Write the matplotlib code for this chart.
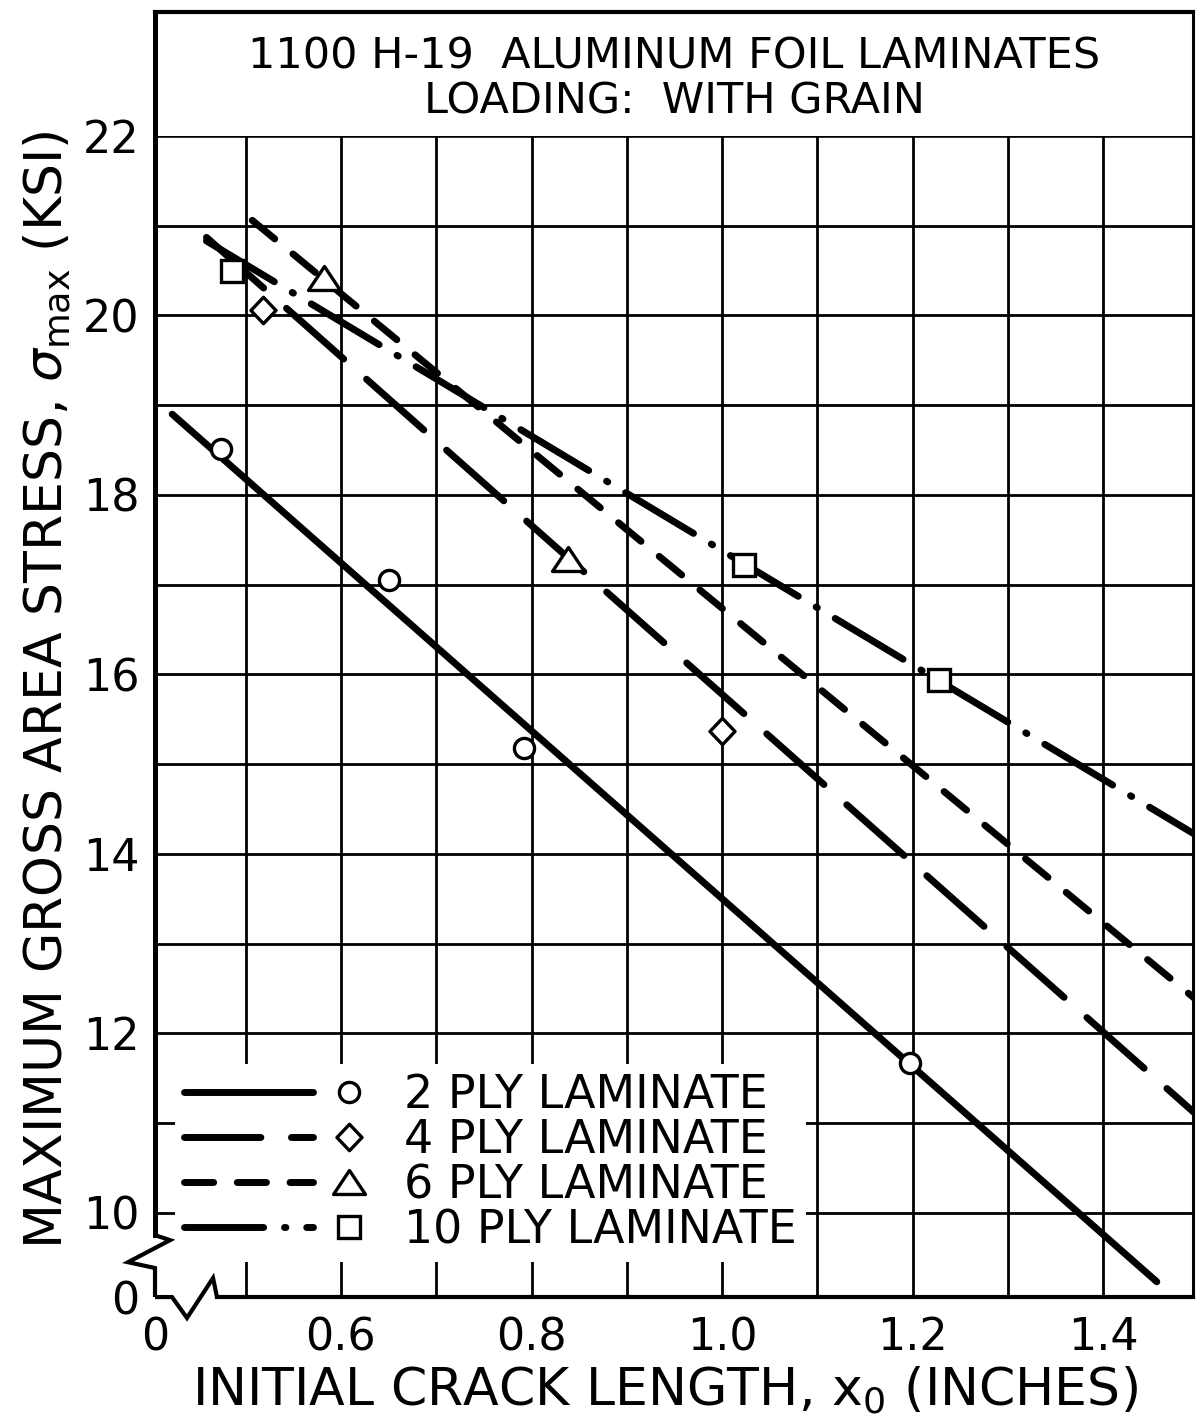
import matplotlib
matplotlib.use('Agg')
import numpy as np
import matplotlib.pyplot as plt
from matplotlib.lines import Line2D
from matplotlib.path import Path
from matplotlib.legend_handler import HandlerBase

# test points (x0 in inches, sigma_max in ksi)
x_2ply = [0.474, 0.651, 0.792, 1.197]
y_2ply = [18.51, 17.05, 15.18, 11.67]
x_4ply = [0.518, 1.000]
y_4ply = [20.06, 15.37]
x_6ply = [0.582, 0.838]
y_6ply = [20.42, 17.29]
x_10ply = [0.486, 1.023, 1.228]
y_10ply = [20.50, 17.22, 15.94]

# faired straight lines, end points
fit_2ply_x = [0.423, 1.456]
fit_2ply_y = [18.90, 9.23]
fit_4ply_x = [0.459, 1.50]
fit_4ply_y = [20.87, 11.07]
fit_6ply_x = [0.507, 1.50]
fit_6ply_y = [21.06, 12.35]
fit_10ply_x = [0.459, 1.50]
fit_10ply_y = [20.83, 14.19]

labels = ['2 PLY LAMINATE', '4 PLY LAMINATE', '6 PLY LAMINATE', '10 PLY LAMINATE']
x_ticks = [0.6, 0.8, 1.0, 1.2, 1.4]
x_ticklabels = ['0.6', '0.8', '1.0', '1.2', '1.4']
y_ticks = [10, 12, 14, 16, 18, 20, 22]
y_ticklabels = ['10', '12', '14', '16', '18', '20', '22']

title_1 = '1100 H-19  ALUMINUM FOIL LAMINATES'
title_2 = 'LOADING:  WITH GRAIN'
x_label = r'INITIAL CRACK LENGTH, $\mathregular{x_0}$ (INCHES)'
y_label = r'MAXIMUM GROSS AREA STRESS, $\sigma_{\rm max}$ (KSI)'

# broken axes: both edges are labelled zero
X_LO, X_HI = 0.405, 1.494
Y_LO, Y_HI = 9.06, 22.0
X_BRK, Y_BRK = 0.470, 9.75

plt.rcParams.update({
    'font.family': 'DejaVu Sans',
    'mathtext.fontset': 'dejavusans',
    'lines.scale_dashes': False,
    'lines.solid_capstyle': 'round',
    'lines.dash_capstyle': 'round',
})

tri = Path([(-1, -0.75), (1, -0.75), (0, 0.75), (-1, -0.75)], closed=True)
diamond = Path([(0, 1), (0.95, 0), (0, -1), (-0.95, 0), (0, 1)], closed=True)

styles = [
    (x_2ply, y_2ply, fit_2ply_x, fit_2ply_y, 'o', 14.5, '-'),
    (x_4ply, y_4ply, fit_4ply_x, fit_4ply_y, diamond, 19, (0, (55, 22))),
    (x_6ply, y_6ply, fit_6ply_x, fit_6ply_y, tri, 23, (0, (21, 17))),
    (x_10ply, y_10ply, fit_10ply_x, fit_10ply_y, 's', 15.5, (0, (57, 15, 1, 15))),
]


class LineThenMarker(HandlerBase):
    """legend key: line sample followed by the marker on its right"""
    def create_artists(self, legend, orig_handle, xdescent, ydescent,
                       width, height, fontsize, trans):
        line, mark = orig_handle
        y = height / 2 - ydescent
        x0 = -xdescent
        seg = Line2D([x0, x0 + 0.74 * width], [y, y])
        seg.update_from(line)
        pt = Line2D([x0 + 0.95 * width], [y])
        pt.update_from(mark)
        seg.set_transform(trans)
        pt.set_transform(trans)
        return [seg, pt]


fig = plt.figure(figsize=(11.97, 14.18), dpi=100)
ax = fig.add_axes([0.1295, 0.0853, 0.8672, 0.8188])
tax = fig.add_axes([0.1295, 0.9041, 0.8672, 0.0874])

handles = []
for xs, ys, fx, fy, mk, ms, ls in styles:
    ln, = ax.plot(fx, fy, color='black', lw=5, ls=ls, zorder=3)
    pt, = ax.plot(xs, ys, ls='none', marker=mk, ms=ms, mfc='white',
                  mec='black', mew=2.4, zorder=4)
    handles.append((ln, pt))

ax.set_xlim(X_LO, X_HI)
ax.set_ylim(Y_LO, Y_HI)

# labelled ticks (major) and the ruled grid (minor)
ax.set_xticks([X_LO] + x_ticks)
ax.set_xticklabels(['0'] + x_ticklabels)
ax.set_yticks([Y_LO] + y_ticks)
ax.set_yticklabels(['0'] + y_ticklabels)
ax.set_xticks(np.arange(0.5, 1.45, 0.1), minor=True)
ax.set_yticks(np.arange(10, 22, 1), minor=True)
ax.xaxis.remove_overlapping_locs = False
ax.yaxis.remove_overlapping_locs = False
ax.grid(which='minor', color='black', lw=2.0)
ax.grid(which='major', visible=False)
ax.set_axisbelow(True)
ax.tick_params(which='both', length=0)
ax.tick_params(axis='y', which='major', pad=11, labelsize=32)
ax.tick_params(axis='x', which='major', pad=14, labelsize=32)

ax.spines['left'].set_linewidth(3.6)
ax.spines['bottom'].set_linewidth(3.0)
ax.spines['top'].set_linewidth(2.6)
ax.spines['right'].set_linewidth(2.2)
ax.spines['left'].set_bounds(Y_BRK, Y_HI)
ax.spines['bottom'].set_bounds(X_BRK, X_HI)

# break symbols on both axes
ax.plot([0, 0.0145, -0.026, 0, 0], [0.0533, 0.049, 0.030, 0.025, 0],
        transform=ax.transAxes, clip_on=False, color='black', lw=3,
        solid_capstyle='butt', solid_joinstyle='miter')
ax.plot([0, 0.0164, 0.0308, 0.0559, 0.0597], [0, 0, -0.018, 0.0164, 0],
        transform=ax.transAxes, clip_on=False, color='black', lw=3,
        solid_capstyle='butt', solid_joinstyle='miter')

ax.set_xlabel(x_label, fontsize=37.5, va='baseline')
ax.xaxis.set_label_coords(0.491, -0.093)
ax.set_ylabel(y_label, fontsize=37.5, va='baseline')
ax.yaxis.set_label_coords(-0.0896, 0.523)

leg = ax.legend(handles=handles, labels=labels,
                handler_map={tuple: LineThenMarker()},
                loc='lower left', bbox_to_anchor=(0.019, 0.030),
                fontsize=33, handlelength=3.8, handletextpad=1.0,
                labelspacing=0.0, borderpad=0.2, borderaxespad=0,
                frameon=True, fancybox=False, framealpha=1,
                edgecolor='none', facecolor='white')

# title box on top of the grid
tax.set_xticks([])
tax.set_yticks([])
tax.spines['bottom'].set_visible(False)
tax.spines['left'].set_linewidth(3.6)
tax.spines['top'].set_linewidth(3.0)
tax.spines['right'].set_linewidth(2.2)
tax.text(0.5, 0.548, title_1, ha='center', va='baseline', fontsize=31)
tax.text(0.5, 0.185, title_2, ha='center', va='baseline', fontsize=31)

fig.savefig('out.png', dpi=100)
